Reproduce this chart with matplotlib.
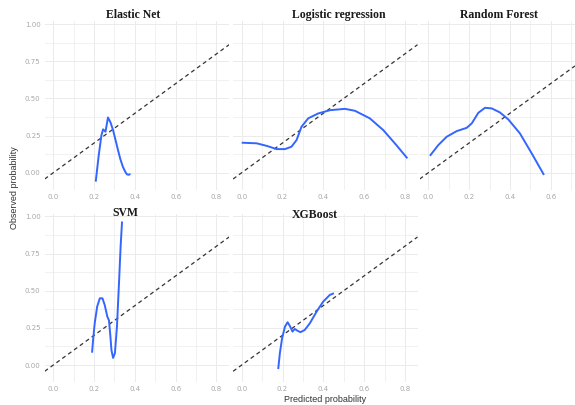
import matplotlib
matplotlib.use("Agg")
import matplotlib.pyplot as plt
from matplotlib.ticker import MultipleLocator

W, H = 575, 405

# ---- data ----
titles = ["Elastic Net", "Logistic regression", "Random Forest", "SVM", "XGBoost"]

en_x = [0.208, 0.222, 0.236, 0.244, 0.256, 0.268, 0.280, 0.293, 0.305, 0.317, 0.329, 0.341, 0.352, 0.361, 0.370, 0.378]
en_y = [-0.060, 0.110, 0.253, 0.292, 0.276, 0.372, 0.340, 0.287, 0.220, 0.153, 0.090, 0.040, 0.008, -0.011, -0.014, -0.008]

lr_x = [0.000, 0.073, 0.122, 0.171, 0.212, 0.244, 0.269, 0.293, 0.326, 0.375, 0.433, 0.506, 0.555, 0.628, 0.694, 0.758, 0.812]
lr_y = [0.202, 0.198, 0.181, 0.159, 0.159, 0.175, 0.220, 0.309, 0.366, 0.399, 0.421, 0.430, 0.417, 0.366, 0.287, 0.186, 0.097]

rf_x = [0.008, 0.049, 0.090, 0.139, 0.188, 0.213, 0.245, 0.278, 0.311, 0.351, 0.392, 0.449, 0.507, 0.567]
rf_y = [0.114, 0.186, 0.242, 0.280, 0.302, 0.332, 0.403, 0.437, 0.433, 0.406, 0.359, 0.265, 0.130, -0.015]

svm_x = [0.190, 0.195, 0.203, 0.215, 0.228, 0.241, 0.252, 0.265, 0.273, 0.280, 0.285, 0.293, 0.302, 0.312, 0.322, 0.330, 0.337]
svm_y = [0.083, 0.169, 0.281, 0.393, 0.449, 0.449, 0.404, 0.325, 0.300, 0.191, 0.101, 0.048, 0.079, 0.258, 0.551, 0.798, 0.966]

xgb_x = [0.179, 0.187, 0.198, 0.212, 0.225, 0.236, 0.249, 0.260, 0.272, 0.288, 0.309, 0.334, 0.367, 0.399, 0.432, 0.452]
xgb_y = [-0.027, 0.079, 0.180, 0.258, 0.288, 0.263, 0.225, 0.243, 0.232, 0.221, 0.236, 0.281, 0.359, 0.426, 0.472, 0.483]

xs = [en_x, lr_x, rf_x, svm_x, xgb_x]
ys = [en_y, lr_y, rf_y, svm_y, xgb_y]

x_ticks = [0.0, 0.2, 0.4, 0.6, 0.8]
y_ticks = [0.00, 0.25, 0.50, 0.75, 1.00]

# ---- layout (pixels) ----
YLIM = (-0.115, 1.02)
PXU = 204.0
panels = [
    # left px, x-zero px, right px, top px, bottom px, show y labels
    (44.7, 53.3, 229.1, 21.2, 189.8, True),
    (233.1, 241.7, 417.5, 21.2, 189.8, False),
    (419.7, 428.3, 575.0, 21.2, 189.8, False),
    (44.7, 53.3, 229.1, 213.5, 382.1, True),
    (233.1, 241.7, 417.5, 213.5, 382.1, False),
]
title_pos = [(133.5, 15), (339, 15), (498.5, 15), (125, 212.5), (315, 215)]

fig = plt.figure(figsize=(W / 100, H / 100), dpi=100)
fig.patch.set_facecolor("white")

tick_color = "#a8a8a8"
grid_color = "#ebebeb"

for i, (l, z, r, t, b, showy) in enumerate(panels):
    ax = fig.add_axes([l / W, 1 - b / H, (r - l) / W, (b - t) / H])
    x0 = (l - z) / PXU
    x1 = (r - z) / PXU
    for s in ax.spines.values():
        s.set_visible(False)
    vis_ticks = [v for v in x_ticks if x0 <= v <= x1]
    ax.set_xticks(vis_ticks)
    ax.set_xticklabels([f"{v:.1f}" for v in vis_ticks])
    ax.set_yticks(y_ticks)
    ax.xaxis.set_minor_locator(MultipleLocator(0.1))
    ax.yaxis.set_minor_locator(MultipleLocator(0.125))
    if showy:
        ax.set_yticklabels([f"{v:.2f}" for v in y_ticks])
    else:
        ax.set_yticklabels([])
    ax.tick_params(which="both", length=0, labelsize=5, labelcolor=tick_color, pad=3)
    ax.grid(True, which="major", color=grid_color, lw=0.7)
    ax.grid(True, which="minor", color=grid_color, lw=0.5)
    ax.set_axisbelow(True)
    ax.set_facecolor("white")
    # identity reference line
    ax.plot([x0, x1], [x0, x1], color="#333333", lw=0.9, linestyle=(0, (3.2, 2.6)), zorder=2)
    # calibration curve
    ax.plot(xs[i], ys[i], color="#3366FF", lw=1.4, solid_capstyle="butt", zorder=3)
    ax.set_xlim(x0, x1)
    ax.set_ylim(*YLIM)
    tx, ty = title_pos[i]
    fig.text(tx / W, 1 - ty / H, titles[i], ha="center", va="center",
             family="Liberation Serif", fontweight="bold", fontsize=8.5, color="#1a1a1a")

fig.text(15 / W, 1 - 187.5 / H, "Observed probability", rotation=90, ha="center", va="center",
         family="Liberation Sans", fontsize=6.5, color="#333333")
fig.text(325 / W, 1 - 400 / H, "Predicted probability", ha="center", va="center",
         family="Liberation Sans", fontsize=6.5, color="#333333")

fig.savefig("out.png", dpi=100, facecolor="white")
